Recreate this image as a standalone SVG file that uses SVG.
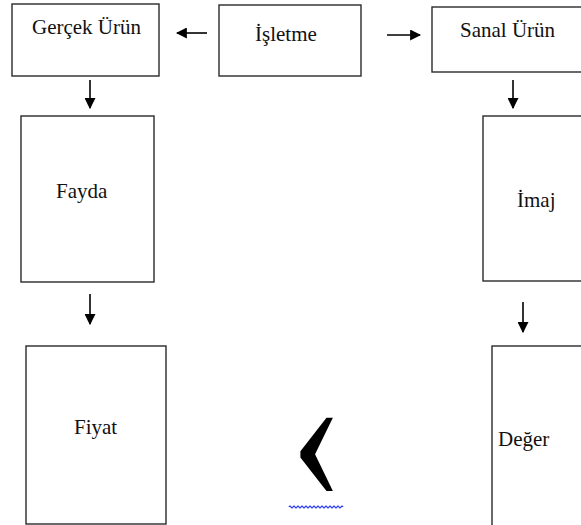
<svg xmlns="http://www.w3.org/2000/svg" width="581" height="525" viewBox="0 0 581 525">
<style>
.box{fill:#fff;stroke:#2a2a2a;stroke-width:1.4}
.lbl{font-family:"Liberation Serif","Times New Roman",serif;font-size:21px;fill:#111}
.ar{stroke:#000;stroke-width:1.6;fill:none}
</style>
<defs>
<marker id="ah" viewBox="0 0 10 10" refX="9" refY="5" markerWidth="11" markerHeight="11" markerUnits="userSpaceOnUse" orient="auto">
<path d="M0,0 L10,5 L0,10 z" fill="#000"/>
</marker>
</defs>
<rect width="581" height="525" fill="#fff"/>
<g id="gercek-urun"><rect class="box" x="12" y="4" width="147" height="72"/><text class="lbl" x="32" y="34">Gerçek Ürün</text></g>
<g id="isletme"><rect class="box" x="219" y="5" width="142" height="71"/><text class="lbl" x="255" y="41">İşletme</text></g>
<g id="sanal-urun"><rect class="box" x="432" y="7" width="160" height="65"/><text class="lbl" x="460" y="37">Sanal Ürün</text></g>
<g id="fayda"><rect class="box" x="21" y="116" width="133" height="166"/><text class="lbl" x="56" y="198">Fayda</text></g>
<g id="imaj"><rect class="box" x="483" y="116" width="110" height="165"/><text class="lbl" x="517" y="207">İmaj</text></g>
<g id="fiyat"><rect class="box" x="26" y="346" width="140" height="178"/><text class="lbl" x="74" y="434">Fiyat</text></g>
<g id="deger"><rect class="box" x="492" y="346" width="100" height="190"/><text class="lbl" x="498" y="446">Değer</text></g>
<g id="connectors">
<line class="ar" x1="207" y1="33" x2="177" y2="33" marker-end="url(#ah)"/>
<line class="ar" x1="387" y1="35" x2="420" y2="35" marker-end="url(#ah)"/>
<line class="ar" x1="90" y1="80" x2="90" y2="108" marker-end="url(#ah)"/>
<line class="ar" x1="90" y1="294" x2="90" y2="324" marker-end="url(#ah)"/>
<line class="ar" x1="513" y1="80" x2="513" y2="108" marker-end="url(#ah)"/>
<line class="ar" x1="523" y1="302" x2="523" y2="332" marker-end="url(#ah)"/>
</g>
<g id="chevron">
<text transform="translate(290,498) scale(1,1.2)" font-family="Liberation Serif, serif" font-size="160" fill="#000">‹</text>
<path d="M289,507 q1,-2 2,0 t2,0 t2,0 t2,0 t2,0 t2,0 t2,0 t2,0 t2,0 t2,0 t2,0 t2,0 t2,0 t2,0 t2,0 t2,0 t2,0 t2,0 t2,0 t2,0 t2,0 t2,0 t2,0 t2,0 t2,0 t2,0 t2,0" fill="none" stroke="#2030ff" stroke-width="1.2"/>
</g>
</svg>
